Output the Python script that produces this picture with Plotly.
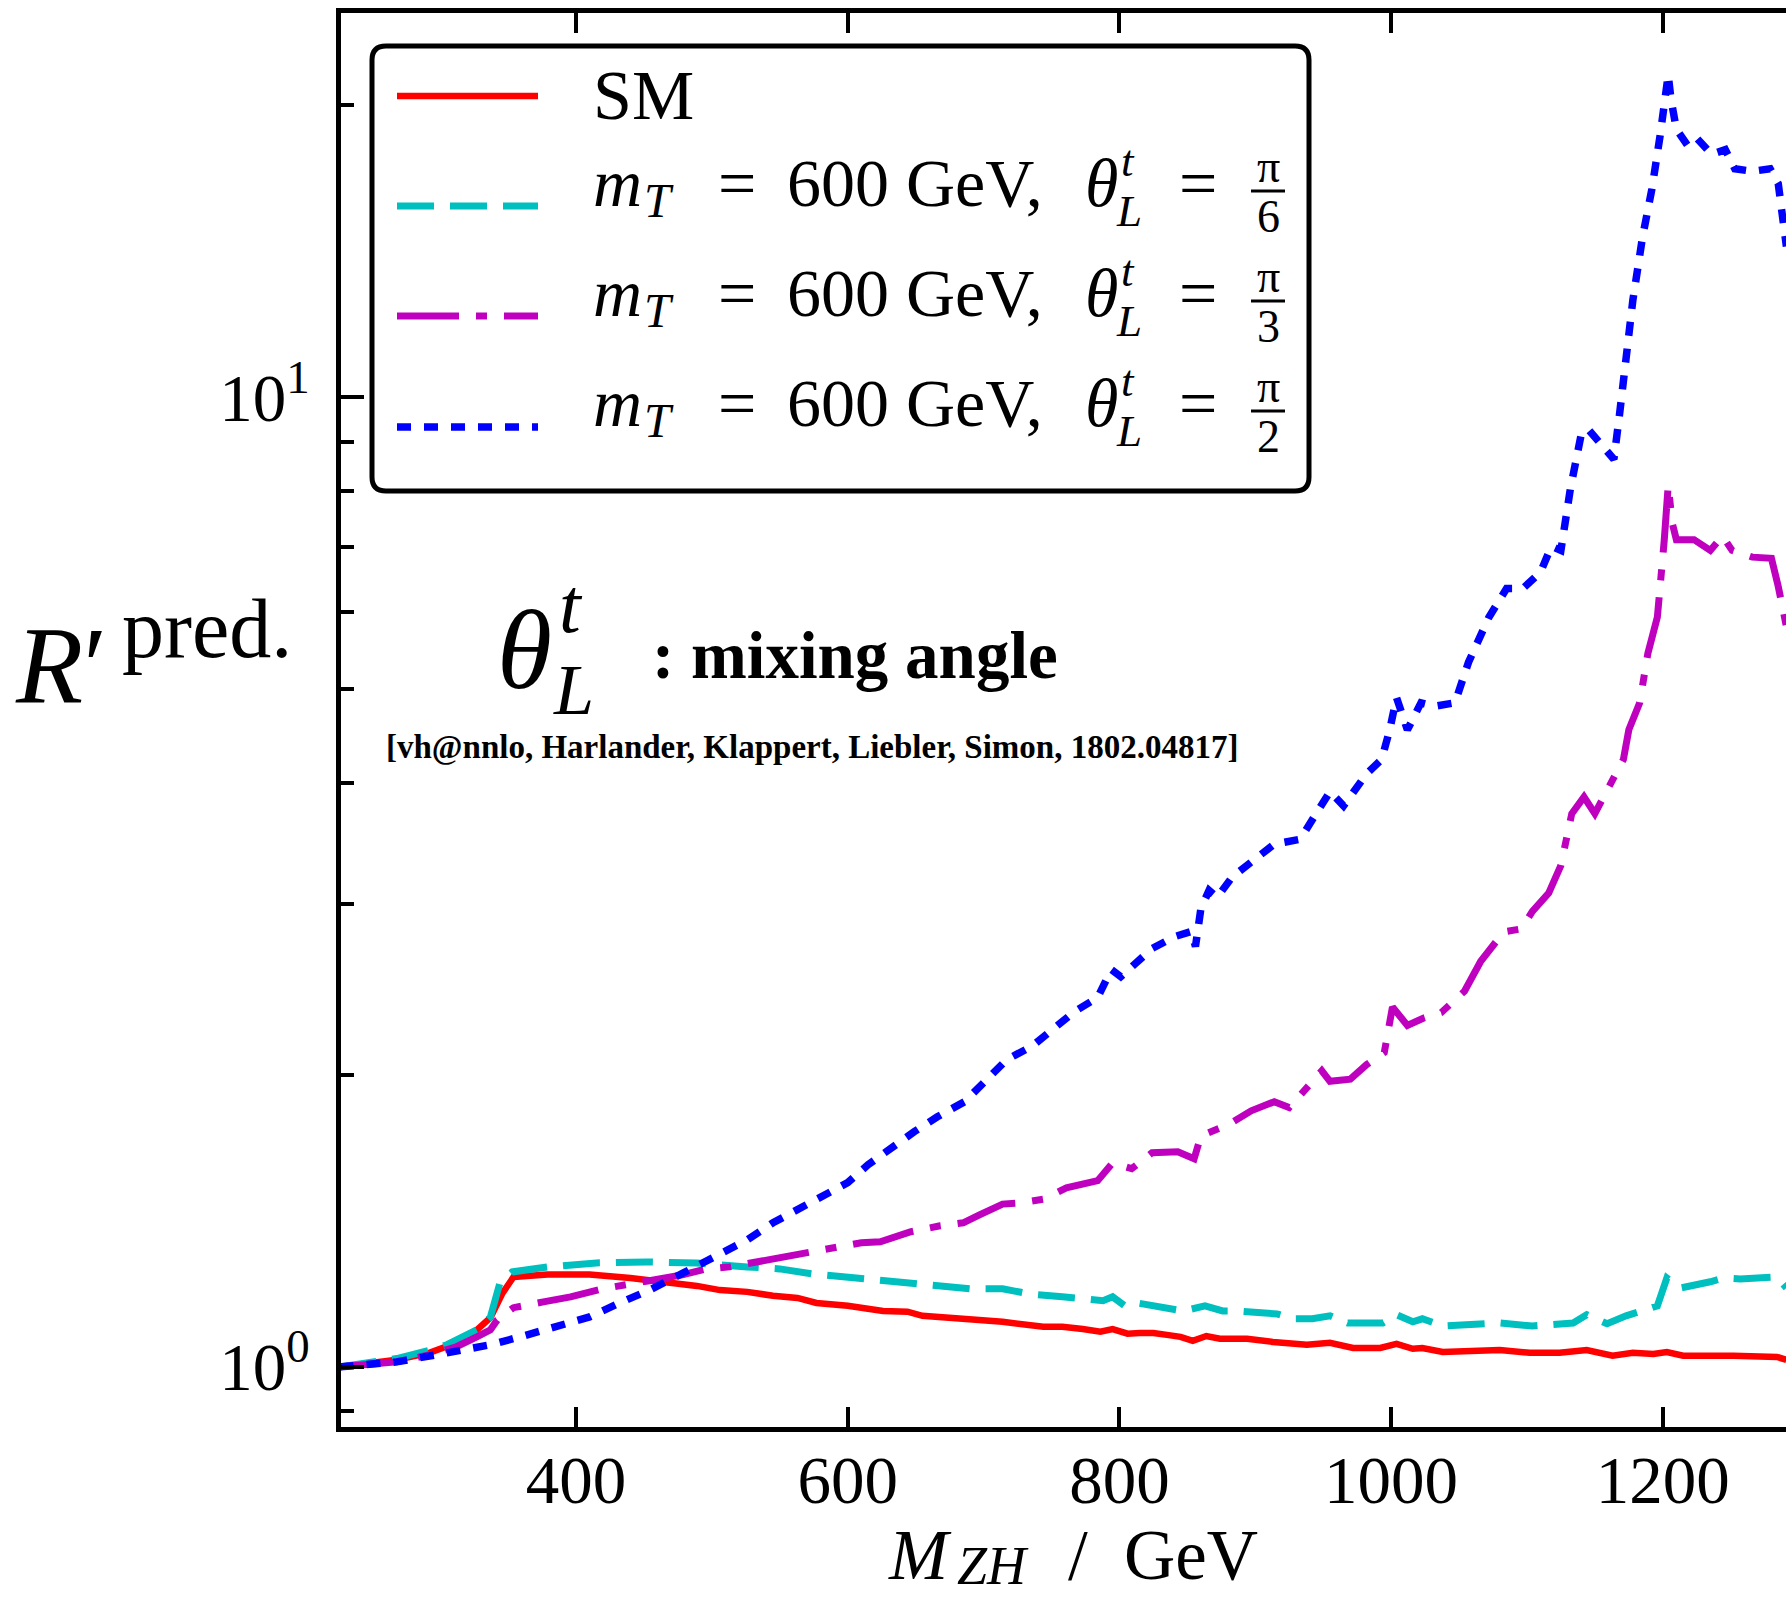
import math
import plotly.graph_objects as go

# ---------------- data ----------------
SM_X = [226, 268, 292, 312, 327, 337, 346, 354, 379, 410, 440, 464, 489, 506, 526, 545, 563, 577, 600,
        626, 644, 655, 666, 685, 714, 744, 758, 773, 786, 795, 806, 815, 825, 835, 845, 854, 864, 874,
        894, 913, 926, 938, 955, 972, 992, 1004, 1016, 1023, 1038, 1080, 1102, 1124, 1144, 1163, 1178,
        1193, 1203, 1215, 1252, 1284, 1291]
SM_Y = [1.0, 1.017, 1.034, 1.059, 1.092, 1.124, 1.192, 1.238, 1.245, 1.245, 1.235, 1.224, 1.212, 1.20,
        1.195, 1.184, 1.178, 1.164, 1.156, 1.142, 1.140, 1.129, 1.126, 1.118, 1.113, 1.100, 1.100, 1.094,
        1.087, 1.094, 1.082, 1.084, 1.084, 1.079, 1.074, 1.064, 1.076, 1.069, 1.069, 1.061, 1.056, 1.054,
        1.059, 1.046, 1.046, 1.056, 1.044, 1.046, 1.036, 1.041, 1.034, 1.034, 1.041, 1.027, 1.034, 1.031,
        1.036, 1.027, 1.027, 1.024, 1.017]

PI6_X = [226, 268, 292, 305, 327, 337, 344, 353, 379, 415, 452, 489, 526, 550, 574, 600, 614, 644, 668,
         690, 714, 734, 758, 773, 788, 795, 804, 813, 832, 847, 863, 876, 887, 916, 928, 942, 955, 968,
         994, 1004, 1016, 1023, 1038, 1056, 1080, 1104, 1119, 1134, 1144, 1159, 1173, 1196, 1203, 1213,
         1235, 1245, 1257, 1284, 1291]
PI6_Y = [1.0, 1.02, 1.04, 1.054, 1.092, 1.126, 1.221, 1.253, 1.268, 1.280, 1.283, 1.280, 1.268, 1.262,
         1.247, 1.238, 1.232, 1.224, 1.212, 1.204, 1.204, 1.189, 1.181, 1.175, 1.170, 1.181, 1.156, 1.164,
         1.151, 1.142, 1.156, 1.142, 1.142, 1.134, 1.121, 1.121, 1.129, 1.110, 1.110, 1.132, 1.113, 1.121,
         1.102, 1.105, 1.110, 1.102, 1.108, 1.110, 1.132, 1.108, 1.129, 1.156, 1.235, 1.206, 1.224, 1.235,
         1.232, 1.238, 1.206]

PI3_X = [226, 268, 292, 312, 327, 337, 342, 354, 376, 396, 420, 435, 454, 479, 496, 513, 528, 545, 570,
         592, 610, 624, 646, 668, 685, 697, 714, 727, 744, 761, 784, 795, 809, 824, 843, 855, 860, 880,
         897, 914, 925, 949, 955, 970, 982, 995, 1001, 1012, 1024, 1037, 1054, 1066, 1083, 1096, 1104,
         1116, 1125, 1133, 1142, 1150, 1171, 1175, 1183, 1189, 1196, 1201, 1204, 1207, 1210, 1223, 1235,
         1244, 1251, 1266, 1280, 1285, 1291]
PI3_Y = [1.0, 1.012, 1.029, 1.049, 1.074, 1.092, 1.118, 1.151, 1.167, 1.181, 1.204, 1.212, 1.227, 1.245,
         1.262, 1.268, 1.280, 1.289, 1.311, 1.327, 1.343, 1.346, 1.378, 1.398, 1.408, 1.435, 1.472, 1.476,
         1.489, 1.530, 1.556, 1.623, 1.601, 1.663, 1.667, 1.639, 1.731, 1.777, 1.837, 1.877, 1.851, 2.02,
         1.97, 1.98, 2.05, 2.11, 2.35, 2.25, 2.29, 2.32, 2.44, 2.62, 2.81, 2.83, 2.95, 3.08, 3.29, 3.72,
         3.87, 3.72, 4.23, 4.54, 4.84, 5.44, 5.93, 7.10, 8.11, 7.41, 7.13, 7.13, 6.95, 7.19, 6.95, 6.84,
         6.82, 6.38, 5.80]

PI2_X = [226, 268, 305, 337, 359, 386, 410, 432, 454, 479, 501, 526, 545, 563, 582, 600, 615, 632, 649,
         666, 686, 700, 717, 736, 753, 767, 784, 794, 801, 809, 824, 841, 853, 856, 860, 866, 872, 883,
         897, 914, 933, 949, 955, 965, 982, 993, 999, 1004, 1012, 1022, 1032, 1047, 1057, 1072, 1085,
         1097, 1110, 1118, 1125, 1132, 1140, 1145, 1153, 1164, 1168, 1173, 1178, 1185, 1192, 1198, 1201,
         1204, 1206, 1210, 1218, 1225, 1236, 1246, 1253, 1266, 1279, 1285, 1291]
PI2_Y = [1.0, 1.012, 1.034, 1.054, 1.074, 1.100, 1.126, 1.164, 1.20, 1.25, 1.299, 1.352, 1.408, 1.452,
         1.497, 1.549, 1.616, 1.683, 1.748, 1.811, 1.877, 1.963, 2.074, 2.143, 2.244, 2.325, 2.404, 2.569,
         2.526, 2.581, 2.700, 2.779, 2.812, 2.713, 2.970, 3.10, 3.05, 3.20, 3.31, 3.46, 3.50, 3.82, 3.92,
         3.79, 4.09, 4.23, 4.54, 4.90, 4.54, 4.84, 4.80, 4.84, 5.33, 5.93, 6.35, 6.35, 6.60, 7.02, 6.95,
         8.05, 9.16, 9.27, 9.01, 8.63, 9.56, 11.1, 12.6, 14.6, 16.4, 18.6, 20.1, 21.5, 20.3, 18.9, 18.2,
         18.5, 17.8, 18.0, 17.2, 17.1, 17.2, 16.6, 14.3]

SERIES_NAMES = ["SM", "m_T = 600 GeV, θ_L^t = π/6", "m_T = 600 GeV, θ_L^t = π/3", "m_T = 600 GeV, θ_L^t = π/2"]
FRACTION_DENOMS = ["6", "3", "2"]
X_TICKS = [400, 600, 800, 1000, 1200]
Y_TICKS = [1, 10]
Y_TICK_TEXT = ["10<sup>0</sup>", "10<sup>1</sup>"]
Y_MINOR = [0.9, 2, 3, 4, 5, 6, 7, 8, 9, 20]

# ---------------- styles ----------------
COLORS = ["#ff0000", "#00bfbf", "#bf00bf", "#0000ff"]
DASHES = ["solid", "37px,16px", "62px,17px,11px,17px", "14px,13px"]
WIDTHS = [6.5, 7, 7, 7.5]
SERIF = "Liberation Serif"
BOLD = "Liberation Serif"

W, H = 1786, 1599
PX0, PX1, PY0, PY1 = 341, 1786, 13, 1427


def px(X):
    return (X - PX0) / (PX1 - PX0)


def py(Y):
    return (PY1 - Y) / (PY1 - PY0)


fig = go.Figure()
for xs, ys, name, c, d, w in zip([SM_X, PI6_X, PI3_X, PI2_X], [SM_Y, PI6_Y, PI3_Y, PI2_Y],
                                 SERIES_NAMES, COLORS, DASHES, WIDTHS):
    fig.add_trace(go.Scatter(x=xs, y=ys, mode="lines", name=name,
                             line=dict(color=c, dash=d, width=w), showlegend=False))

annotations = []
shapes = []


def text(s, X, Ybase, size, anchor="left", family=SERIF):
    # place text so its baseline sits roughly at pixel row Ybase
    annotations.append(dict(
        text=s, x=px(X), y=py(Ybase - 0.35 * size), xref="paper", yref="paper",
        xanchor=anchor, yanchor="middle", showarrow=False,
        font=dict(family=family, size=size, color="black")))


# ---- legend (drawn manually) ----
LX0, LX1, LY0, LY1, R = 372, 1309, 46, 491, 14
path = (f"M {px(LX0 + R)},{py(LY0)} L {px(LX1 - R)},{py(LY0)} "
        f"Q {px(LX1)},{py(LY0)} {px(LX1)},{py(LY0 + R)} "
        f"L {px(LX1)},{py(LY1 - R)} Q {px(LX1)},{py(LY1)} {px(LX1 - R)},{py(LY1)} "
        f"L {px(LX0 + R)},{py(LY1)} Q {px(LX0)},{py(LY1)} {px(LX0)},{py(LY1 - R)} "
        f"L {px(LX0)},{py(LY0 + R)} Q {px(LX0)},{py(LY0)} {px(LX0 + R)},{py(LY0)} Z")
shapes.append(dict(type="path", path=path, xref="paper", yref="paper",
                   line=dict(color="black", width=5), fillcolor="white", layer="above"))

SAMPLE_Y = [96, 206, 316, 427]
for i in range(4):
    shapes.append(dict(type="line", xref="paper", yref="paper", layer="above",
                       x0=px(397), x1=px(538), y0=py(SAMPLE_Y[i]), y1=py(SAMPLE_Y[i]),
                       line=dict(color=COLORS[i], dash=DASHES[i], width=WIDTHS[i])))

text("SM", 591, 120, 70)
for i, den in enumerate(FRACTION_DENOMS):
    B = 207 + 110 * i
    text("<i>m</i>", 591, B, 68)
    text("<i>T</i>", 642, B + 10, 48)
    text("=", 737, B, 68, anchor="center")
    text("600 GeV,", 785, B, 68)
    text("<i>θ</i>", 1083, B, 68)
    text("<i>t</i>", 1119, B - 30, 45)
    text("<i>L</i>", 1114, B + 20, 45)
    text("=", 1198, B, 68, anchor="center")
    text("π", 1268, B - 24, 46, anchor="center")
    shapes.append(dict(type="line", xref="paper", yref="paper", layer="above",
                       x0=px(1251), x1=px(1285), y0=py(B - 16), y1=py(B - 16),
                       line=dict(color="black", width=3)))
    text(den, 1268, B + 26, 46, anchor="center")

# ---- in-plot labels ----
text("<i>θ</i>", 495, 689, 112)
text("<i>t</i>", 557, 633, 78)
text("<i>L</i>", 551, 715, 72)
text("<b>: mixing angle</b>", 650, 678, 67, family=BOLD)
text("<b>[vh@nnlo, Harlander, Klappert, Liebler, Simon, 1802.04817]</b>", 384, 759, 33, family=BOLD)

# ---- axis titles ----
text("<i>M</i>", 886, 1580, 71)
text("<i>ZH</i>", 955, 1585, 54)
text("/", 1066, 1580, 71)
text("GeV", 1122, 1580, 71)
text("<i>R</i>′", 13, 704, 110)
text("pred.", 120, 658, 84)

fig.update_layout(
    width=W, height=H,
    margin=dict(l=PX0, r=W - PX1, t=PY0, b=H - PY1),
    paper_bgcolor="white", plot_bgcolor="white",
    showlegend=False,
    annotations=annotations, shapes=shapes,
    xaxis=dict(range=[227.0, 1290.7], tickvals=X_TICKS, ticks="inside", ticklen=20, tickwidth=4,
               tickcolor="black", showline=True, linecolor="black", linewidth=5, mirror="ticks",
               showgrid=False, zeroline=False, ticklabelstandoff=-9,
               tickfont=dict(family=SERIF, size=67, color="black")),
    yaxis=dict(type="log", range=[math.log10(0.867), math.log10(24.9)], tickvals=Y_TICKS,
               ticktext=Y_TICK_TEXT, ticks="inside", ticklen=23, tickwidth=4, tickcolor="black",
               showline=True, linecolor="black", linewidth=5, mirror=False,
               showgrid=False, zeroline=False, ticklabelstandoff=13,
               minor=dict(tickmode="array", tickvals=Y_MINOR, ticks="inside", ticklen=13,
                          tickwidth=4, tickcolor="black", showgrid=False),
               tickfont=dict(family=SERIF, size=67, color="black")),
)

fig.write_html("out.html")
